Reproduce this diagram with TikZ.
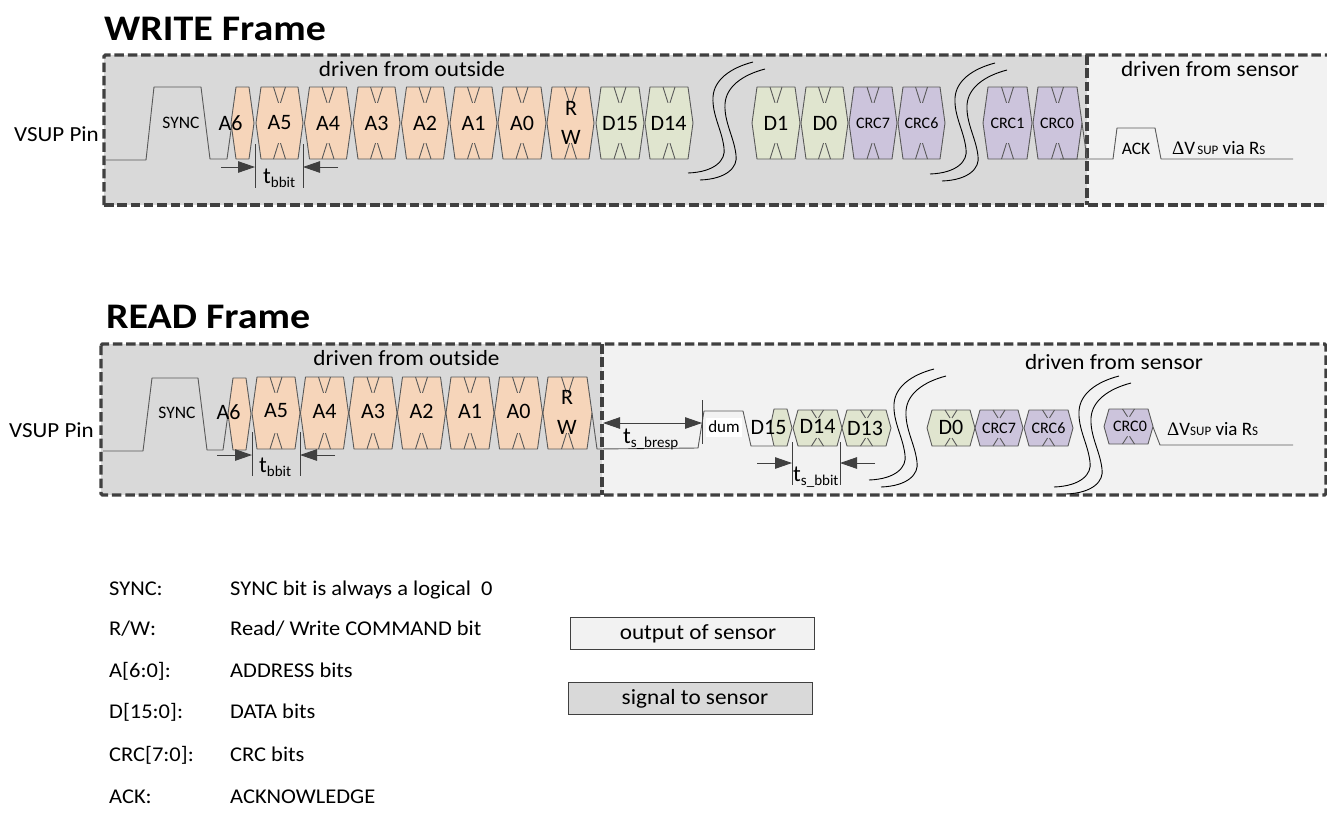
\documentclass[tikz,border=0pt]{standalone}
\usepackage{fontspec}
\setmainfont{Carlito}
\newfontfamily\serfont{Liberation Serif}
\newfontfamily\widefont[FakeStretch=1.07]{Carlito}
\newfontfamily\titlefont[FakeStretch=1.11]{Carlito Bold}
\usetikzlibrary{arrows.meta}
\definecolor{addrc}{HTML}{F6D5BA}
\definecolor{datac}{HTML}{E0E5CF}
\definecolor{crcc}{HTML}{CCC4DC}
\definecolor{wirec}{HTML}{595959}
\definecolor{framec}{HTML}{404040}
\definecolor{outsidec}{HTML}{D9D9D9}
\definecolor{sensorc}{HTML}{F2F2F2}
\tikzset{
  wire/.style={draw=wirec,line width=0.9pt,line join=round},
  framebox/.style={draw=framec,line width=3.4pt,dash pattern=on 9.5pt off 3.8pt,rounded corners=1.5pt},
  squig/.style={draw=black,line width=0.9pt},
  measure/.style={draw=framec,line width=0.9pt},
  tip/.style={-{Triangle[length=17pt,width=11.5pt,fill=framec]}},
  bitlabel/.style={inner sep=0pt,font=\fontsize{22}{22}\selectfont,text=black},
  smalllabel/.style={inner sep=0pt,font=\fontsize{16}{16}\selectfont,text=black},
  synclabel/.style={inner sep=0pt,font=\fontsize{17.5}{17.5}\selectfont,text=black},
  drivenlabel/.style={inner sep=0pt,anchor=base,font=\widefont\fontsize{21.7}{21.7}\selectfont,text=black},
  titlelabel/.style={inner sep=0pt,anchor=base west,font=\titlefont\fontsize{36}{36}\selectfont,text=black},
  pinlabel/.style={inner sep=0pt,anchor=base west,font=\widefont\fontsize{21.5}{21.5}\selectfont,text=black},
  legendlabel/.style={inner sep=0pt,anchor=base west,font=\widefont\fontsize{21}{21}\selectfont,text=black},
  timelabel/.style={inner sep=0pt,anchor=base west,font=\fontsize{23}{23}\selectfont,text=black},
  dvlabel/.style={inner sep=0pt,anchor=base west,font=\fontsize{19}{19}\selectfont,text=black},
  keybox/.style={draw=framec,line width=1pt,minimum width=244pt,minimum height=32pt,inner sep=0pt,font=\widefont\fontsize{21.7}{21.7}\selectfont,anchor=north west},
}
% #1 left tip x, #2 right tip x, #3 top y, #4 bottom y, #5 colour
\newcommand{\hexbit}[5]{%
  \pgfmathsetmacro{\hm}{(#3+#4)/2}%
  \pgfmathsetmacro{\hc}{(#1+#2)/2}%
  \pgfmathsetmacro{\hq}{(#4-#3)*0.22}%
  \filldraw[wire,fill=#5] (#1,\hm) -- (#1+5,#3) -- (#2-5,#3) -- (#2,\hm) -- (#2-5,#4) -- (#1+5,#4) -- cycle;
  \draw[wire] (\hc-6,#3) -- (\hc-1,#3+\hq) (\hc+6,#3) -- (\hc+1,#3+\hq)
              (\hc-6,#4) -- (\hc-1,#4-\hq) (\hc+6,#4) -- (\hc+1,#4-\hq);
}
\newcommand{\squiggle}[2]{%
  \begin{scope}[shift={(#1,#2)}]
    \draw[squig] (0,0) .. controls (27,-1) and (38,-13) .. (36,-25) .. controls (34,-43) and (24,-58) .. (25,-76) .. controls (26,-93) and (42,-105) .. (65,-111);
    \draw[squig] (12,7) .. controls (39,6) and (50,-6) .. (48,-18) .. controls (46,-36) and (36,-51) .. (37,-69) .. controls (38,-86) and (54,-98) .. (77,-104);
  \end{scope}}
\begin{document}
\begin{tikzpicture}[x=1pt,y=-1pt]
\useasboundingbox (0,0) rectangle (1327,820);
% ---- titles
\node[titlelabel] (wtitle) at (104,40) {WRITE Frame};
\node[titlelabel] (rtitle) at (106,328) {READ Frame};
% ---- WRITE frame backgrounds
\fill[outsidec] (104,55) rectangle (1087,205);
\fill[sensorc] (1087,55) rectangle (1327,205);
\draw[framebox] (104,205) -- (104,55) -- (1330,55);
\draw[framebox] (104,205) -- (1330,205);
\draw[framebox] (1087,55) -- (1087,205);
\node[drivenlabel] (wout) at (412,76) {driven from outside};
\node[drivenlabel] (wsen) at (1210,76) {driven from sensor};
\node[pinlabel] (wpin) at (14,141) {VSUP Pin};
% ---- WRITE wave
\draw[wire] (106,160) -- (146,160) -- (154,87) -- (201,87) -- (210,159) -- (227,159) -- (232,123);
\node[synclabel] (wsync) at (181,123) {SYNC};
\filldraw[wire,fill=addrc] (231,123) -- (236,87) -- (249,87) -- (254,123) -- (249,159) -- (236,159) -- cycle;
\foreach \a/\b in {256/303,304.5/351.5,353/400,401.5/448.5,450/497,498/546,547/594}{\hexbit{\a}{\b}{87}{159}{addrc}}
\foreach \a/\b in {596/644,645/693,752/800,801/848}{\hexbit{\a}{\b}{87}{159}{datac}}
\foreach \a/\b in {849/897,898/945,983/1032,1033/1082}{\hexbit{\a}{\b}{87}{159}{crcc}}
\node[bitlabel] (wa6) at (230.5,123) {A6};
\node[bitlabel] (wa5) at (279.5,123) {A5};
\node[bitlabel] (wa4) at (328,123) {A4};
\node[bitlabel] (wa3) at (376.5,123) {A3};
\node[bitlabel] (wa2) at (425,123) {A2};
\node[bitlabel] (wa1) at (473.5,123) {A1};
\node[bitlabel] (wa0) at (522,123) {A0};
\node[bitlabel] (wr) at (571,108) {R};
\node[bitlabel] (ww) at (571,137) {W};
\node[bitlabel] (wd15) at (620,123) {D15};
\node[bitlabel] (wd14) at (668.5,123) {D14};
\node[bitlabel] (wd1) at (776,123) {D1};
\node[bitlabel] (wd0) at (825,123) {D0};
\node[smalllabel] (wc7) at (873,123) {CRC7};
\node[smalllabel] (wc6) at (921.5,123) {CRC6};
\node[smalllabel] (wc1) at (1007.5,123) {CRC1};
\node[smalllabel] (wc0) at (1057,123) {CRC0};
\squiggle{688}{173}
\squiggle{930}{174}
\draw[wire] (1082,123) -- (1087,159);
\draw[wire] (1060,159) -- (1113,159) -- (1117,128) -- (1155,128) -- (1161,159) -- (1293,159);
\node[synclabel] (wack) at (1136,149) {ACK};
\node[dvlabel] (wdv) at (1172,154) {{\serfont Δ}V{\fontsize{13}{13}\selectfont\,SUP} via R{\fontsize{13}{13}\selectfont S}};
% ---- WRITE timing
\coordinate (wt1a) at (255,144); \coordinate (wt1b) at (255,188);
\coordinate (wt2a) at (303,144); \coordinate (wt2b) at (303,188);
\draw[measure] (wt1a) -- (wt1b) (wt2a) -- (wt2b);
\coordinate (wa1s) at (221,167); \coordinate (wa1e) at (255,167);
\coordinate (wa2s) at (338,167); \coordinate (wa2e) at (303,167);
\draw[measure,tip] (wa1s) -- (wa1e);
\draw[measure,tip] (wa2s) -- (wa2e);
\node[timelabel] (wtb) at (263,183) {t\raisebox{-4pt}{\fontsize{15}{15}\selectfont bbit}};
% ---- READ frame backgrounds
\fill[outsidec] (101,344) rectangle (602,495);
\fill[sensorc] (602,344) rectangle (1326,495);
\draw[framebox] (101,344) rectangle (1326,495);
\draw[framebox] (602,344) -- (602,495);
\node[drivenlabel] (rout) at (406.5,365) {driven from outside};
\node[drivenlabel] (rsen) at (1114,369) {driven from sensor};
\node[pinlabel] (rpin) at (9,437) {VSUP Pin};
% ---- READ wave
\draw[wire] (103,451) -- (143,451) -- (152,378) -- (198,378) -- (207,450) -- (223,450) -- (228,414);
\node[synclabel] (rsync) at (177,413) {SYNC};
\filldraw[wire,fill=addrc] (228,414) -- (233,378) -- (246,378) -- (251,414) -- (246,450) -- (233,450) -- cycle;
\foreach \a/\b in {252/300,300.5/348.5,349/397,397.5/445.5,446/494,494.5/542.5,543/592}{\hexbit{\a}{\b}{377}{449}{addrc}}
\node[bitlabel] (ra6) at (228.5,412) {A6};
\node[bitlabel] (ra5) at (276,411) {A5};
\node[bitlabel] (ra4) at (324.5,411) {A4};
\node[bitlabel] (ra3) at (373,411) {A3};
\node[bitlabel] (ra2) at (421.5,411) {A2};
\node[bitlabel] (ra1) at (470,411) {A1};
\node[bitlabel] (ra0) at (518.5,411) {A0};
\node[bitlabel] (rr) at (567,397) {R};
\node[bitlabel] (rw) at (567,427) {W};
\draw[wire] (592,413) -- (597,449) -- (698,448) -- (704,411) -- (743,411) -- (751,446) -- (773,446);
\node[fill=white,minimum width=36pt,minimum height=19pt,inner sep=0pt,font=\fontsize{17}{17}\selectfont] (rdum) at (724,427) {dum};
\filldraw[wire,fill=datac] (770,428) -- (774,409) -- (787,409) -- (792,428) -- (787,446) -- (774,446) -- cycle;
\foreach \a/\b in {793/842,842/891,927/975}{\hexbit{\a}{\b}{410}{446}{datac}}
\foreach \a/\b in {975/1023,1024/1073}{\hexbit{\a}{\b}{410}{446}{crcc}}
\hexbit{1104}{1153}{409}{444}{crcc}
\node[bitlabel] (rd15) at (768.5,427) {D15};
\node[bitlabel] (rd14) at (817.5,426) {D14};
\node[bitlabel] (rd13) at (865,428) {D13};
\node[bitlabel] (rd0) at (951,427) {D0};
\node[smalllabel] (rc7) at (999,428) {CRC7};
\node[smalllabel] (rc6) at (1048.5,428) {CRC6};
\node[smalllabel] (rc0) at (1130,426) {CRC0};
\squiggle{869}{480}
\squiggle{1054}{487}
\draw[wire] (1153,427) -- (1160,445) -- (1293,445);
\node[dvlabel] (rdv) at (1167,435) {{\serfont Δ}V{\fontsize{13}{13}\selectfont SUP} via R{\fontsize{13}{13}\selectfont S}};
% ---- READ timing
\coordinate (rt1a) at (252,432); \coordinate (rt1b) at (252,476);
\coordinate (rt2a) at (300,432); \coordinate (rt2b) at (300,476);
\draw[measure] (rt1a) -- (rt1b) (rt2a) -- (rt2b);
\coordinate (ra1s) at (217,455); \coordinate (ra1e) at (252,455);
\coordinate (ra2s) at (335,455); \coordinate (ra2e) at (300,455);
\draw[measure,tip] (ra1s) -- (ra1e);
\draw[measure,tip] (ra2s) -- (ra2e);
\node[timelabel] (rtb) at (259,472) {t\raisebox{-4pt}{\fontsize{15}{15}\selectfont bbit}};
\coordinate (bra) at (603,423); \coordinate (brb) at (702,423);
\draw[measure,{Triangle[length=17pt,width=11.5pt,fill=framec]}-{Triangle[length=17pt,width=11.5pt,fill=framec]}] (bra) -- (brb);
\coordinate (brc) at (702,400); \coordinate (brd) at (702,444);
\draw[measure] (brc) -- (brd);
\node[timelabel] (rtresp) at (623,443) {t\raisebox{-4pt}{\fontsize{15}{15}\selectfont s\_bresp}};
\coordinate (st1a) at (792,442); \coordinate (st1b) at (792,485);
\coordinate (st2a) at (840,442); \coordinate (st2b) at (840,485);
\draw[measure] (st1a) -- (st1b) (st2a) -- (st2b);
\coordinate (sa1s) at (757,463); \coordinate (sa1e) at (792,463);
\coordinate (sa2s) at (875,463); \coordinate (sa2e) at (840,463);
\draw[measure,tip] (sa1s) -- (sa1e);
\draw[measure,tip] (sa2s) -- (sa2e);
\node[timelabel] (rts) at (793,481) {t\raisebox{-4pt}{\fontsize{15}{15}\selectfont s\_bbit}};
% ---- legend
\node[legendlabel] (l1a) at (109,595) {SYNC:};
\node[legendlabel] (l1b) at (230,595) {SYNC bit is always a logical\ \ 0};
\node[legendlabel] (l2a) at (109,635) {R/W:};
\node[legendlabel] (l2b) at (230,635) {Read/ Write COMMAND bit};
\node[legendlabel] (l3a) at (109,677) {A[6:0]:};
\node[legendlabel] (l3b) at (230,677) {ADDRESS bits};
\node[legendlabel] (l4a) at (109,718) {D[15:0]:};
\node[legendlabel] (l4b) at (230,718) {DATA bits};
\node[legendlabel] (l5a) at (109,761) {CRC[7:0]:};
\node[legendlabel] (l5b) at (230,761) {CRC bits};
\node[legendlabel] (l6a) at (109,803) {ACK:};
\node[legendlabel] (l6b) at (230,803) {ACKNOWLEDGE};
\node[keybox,fill=sensorc] (k1) at (569.5,617) {\hspace*{12pt}output of sensor};
\node[keybox,fill=outsidec] (k2) at (568,682) {\hspace*{9pt}signal to sensor};
\end{tikzpicture}
\end{document}
